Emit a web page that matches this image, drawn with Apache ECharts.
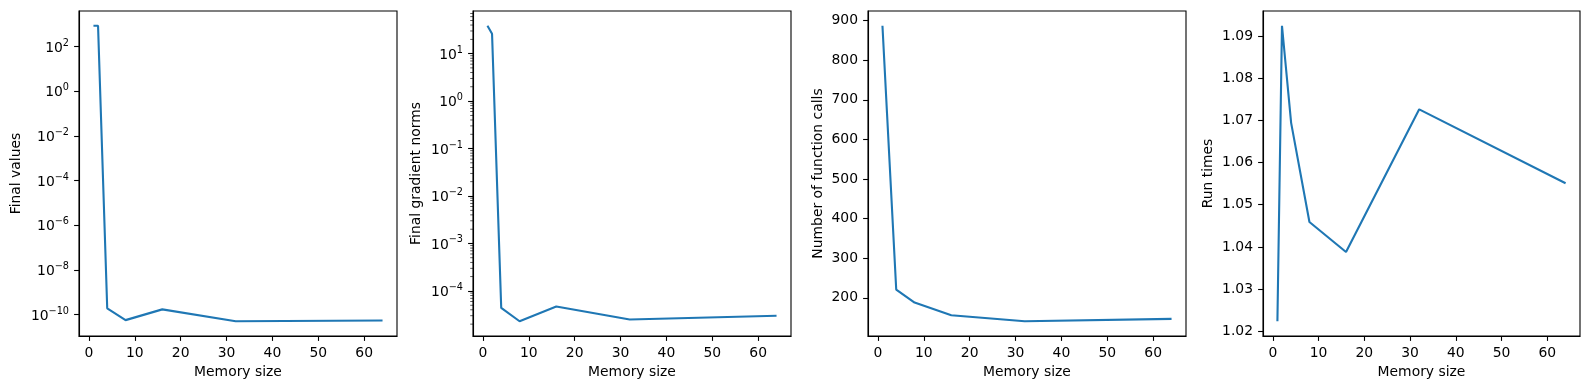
<!DOCTYPE html>
<html>
<head>
<meta charset="utf-8">
<script src="https://cdn.jsdelivr.net/npm/echarts@6/dist/echarts.min.js"></script>
<style>
html, body { margin: 0; padding: 0; background: #fff; }
#main { width: 1590px; height: 390px; }
</style>
</head>
<body>
<div id="main"></div>
<script>
var memorySizes = [1, 2, 4, 8, 16, 32, 64];
var finalValues = [870, 870, 1.9e-10, 5.6e-11, 1.7e-10, 5.0e-11, 5.4e-11];
var gradientNorms = [38.6, 26.3, 4.4e-5, 2.3e-5, 4.7e-5, 2.5e-5, 3.0e-5];
var functionCalls = [887, 665, 221, 188, 156, 141, 147];
var runTimes = [1.0224, 1.0924, 1.0694, 1.0459, 1.0388, 1.0726, 1.0551];
var yTitles = ['Final values', 'Final gradient norms', 'Number of function calls', 'Run times'];
// minor ticks of the gradient norm axis (matplotlib style 2..9 x 10^k)
var gradientMinorTicks = [
	2e-5, 3e-5, 4e-5, 5e-5, 6e-5, 7e-5, 8e-5, 9e-5,
	2e-4, 3e-4, 4e-4, 5e-4, 6e-4, 7e-4, 8e-4, 9e-4,
	2e-3, 3e-3, 4e-3, 5e-3, 6e-3, 7e-3, 8e-3, 9e-3,
	2e-2, 3e-2, 4e-2, 5e-2, 6e-2, 7e-2, 8e-2, 9e-2,
	0.2, 0.3, 0.4, 0.5, 0.6, 0.7, 0.8, 0.9,
	2, 3, 4, 5, 6, 7, 8, 9,
	20, 30, 40, 50, 60, 70
];

var FONT = 'DejaVu Sans';
var FS = 13.9;
var BLUE = '#1f77b4';

function linExtent(arr) {
	var lo = Math.min.apply(null, arr), hi = Math.max.apply(null, arr);
	var m = (hi - lo) * 0.05;
	return [lo - m, hi + m];
}
function logExtent(arr) {
	var l = arr.map(function(v) { return Math.log10(v); });
	var e = linExtent(l);
	return [Math.pow(10, e[0]), Math.pow(10, e[1])];
}
function powLabel(value) {
	var e = Math.round(Math.log10(value));
	return '{b|10}{s|' + String(e).replace('-', '\u2212') + '}';
}

var lefts = [79, 473, 868, 1263];
var widths = [318, 318, 318, 317];
var nameGaps = [56, 50, 43, 48];
var xExt = linExtent(memorySizes);

var grids = [], xAxes = [], yAxes = [], series = [];
var seriesData = [finalValues, gradientNorms, functionCalls, runTimes];

for (var i = 0; i < 4; i++) {
	grids.push({
		left : lefts[i],
		top : 11,
		width : widths[i],
		height : 325,
		show : true,
		borderColor : '#000',
		borderWidth : 1.1,
		backgroundColor : '#fff'
	});
	xAxes.push({
		gridIndex : i,
		type : 'value',
		min : xExt[0],
		max : xExt[1],
		splitNumber : 7,
		name : 'Memory size',
		nameLocation : 'middle',
		nameGap : 28,
		nameTextStyle : { fontFamily : FONT, fontSize : FS, color : '#000' },
		axisLine : { show : true, onZero : false, lineStyle : { color : '#000', width : 1.1 } },
		axisTick : { show : true, length : 4.9, lineStyle : { color : '#000', width : 1.1 } },
		axisLabel : {
			margin : 10,
			fontFamily : FONT,
			fontSize : FS,
			color : '#000',
			showMinLabel : false,
			showMaxLabel : false
		},
		splitLine : { show : false }
	});
	var y = {
		gridIndex : i,
		name : yTitles[i],
		nameLocation : 'middle',
		nameGap : nameGaps[i],
		nameRotate : 90,
		nameTextStyle : { fontFamily : FONT, fontSize : FS, color : '#000' },
		axisLine : { show : true, onZero : false, lineStyle : { color : '#000', width : 1.1 } },
		axisTick : { show : true, length : 4.9, lineStyle : { color : '#000', width : 1.1 } },
		axisLabel : {
			margin : 10,
			fontFamily : FONT,
			fontSize : FS,
			color : '#000',
			showMinLabel : false,
			showMaxLabel : false
		},
		splitLine : { show : false }
	};
	if (i < 2) {
		var ye = logExtent(seriesData[i]);
		y.type = 'log';
		y.logBase = i === 0 ? 100 : 10;
		y.min = ye[0];
		y.max = ye[1];
		y.axisLabel.formatter = powLabel;
		y.axisLabel.rich = {
			b : { fontFamily : FONT, fontSize : FS, color : '#000', lineHeight : 17, verticalAlign : 'bottom' },
			s : { fontFamily : FONT, fontSize : 9.7, color : '#000', lineHeight : 11, verticalAlign : 'top' }
		};
	} else {
		var le = linExtent(seriesData[i]);
		y.type = 'value';
		y.min = le[0];
		y.max = le[1];
		y.splitNumber = 8;
	}
	yAxes.push(y);

	var pts = [];
	for (var j = 0; j < memorySizes.length; j++) {
		pts.push([memorySizes[j], seriesData[i][j]]);
	}
	series.push({
		type : 'line',
		xAxisIndex : i,
		yAxisIndex : i,
		data : pts,
		showSymbol : false,
		symbol : 'none',
		animation : false,
		lineStyle : { color : BLUE, width : 2.1 }
	});
}

series.push({
	type : 'scatter',
	xAxisIndex : 1,
	yAxisIndex : 1,
	clip : false,
	silent : true,
	animation : false,
	symbol : 'rect',
	symbolSize : [2.8, 0.8],
	symbolOffset : [-1.4, 0],
	itemStyle : { color : '#000' },
	data : gradientMinorTicks.map(function(v) { return [xExt[0], v]; })
});

var chart = echarts.init(document.getElementById('main'));
chart.setOption({
	animation : false,
	grid : grids,
	xAxis : xAxes,
	yAxis : yAxes,
	series : series
});
</script>
</body>
</html>
